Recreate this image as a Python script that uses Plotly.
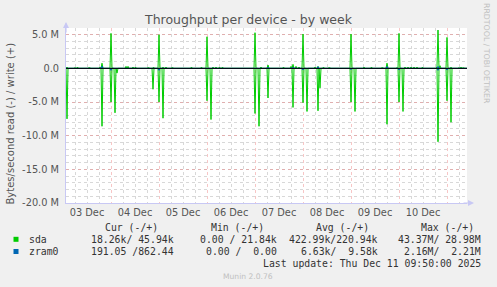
import pandas as pd
import plotly.graph_objects as go

# ---------------- data (MB/s, 30-minute averages) ----------------
sda_write_times = ["2025-12-03 02:00", "2025-12-03 06:00", "2025-12-03 07:00", "2025-12-03 11:00",
                   "2025-12-03 13:00", "2025-12-03 18:30", "2025-12-03 19:30", "2025-12-04 00:00",
                   "2025-12-04 07:30", "2025-12-04 08:30", "2025-12-04 11:00", "2025-12-04 12:00",
                   "2025-12-04 16:00", "2025-12-04 18:30", "2025-12-04 21:00", "2025-12-05 00:00",
                   "2025-12-05 02:00", "2025-12-05 03:30", "2025-12-05 06:30", "2025-12-05 09:00",
                   "2025-12-05 13:00", "2025-12-05 16:00", "2025-12-05 21:00", "2025-12-06 00:00",
                   "2025-12-06 03:00", "2025-12-06 04:30", "2025-12-06 06:00", "2025-12-06 07:30",
                   "2025-12-06 13:30", "2025-12-06 19:30", "2025-12-07 00:00", "2025-12-07 03:00",
                   "2025-12-07 06:30", "2025-12-07 14:00", "2025-12-07 18:00", "2025-12-07 19:00",
                   "2025-12-07 20:30", "2025-12-07 22:00", "2025-12-08 00:00", "2025-12-08 06:00",
                   "2025-12-08 07:30", "2025-12-08 10:00", "2025-12-08 13:00", "2025-12-08 17:30",
                   "2025-12-09 00:00", "2025-12-09 06:30", "2025-12-09 10:00", "2025-12-09 13:00",
                   "2025-12-09 15:30", "2025-12-09 18:00", "2025-12-09 23:00", "2025-12-10 00:00",
                   "2025-12-10 03:00", "2025-12-10 04:30", "2025-12-10 06:00", "2025-12-10 07:30",
                   "2025-12-10 09:00", "2025-12-10 11:30", "2025-12-10 19:00", "2025-12-10 19:30",
                   "2025-12-10 20:30", "2025-12-11 00:00", "2025-12-11 02:00", "2025-12-11 06:00",
                   "2025-12-11 07:00", "2025-12-11 08:00"]
sda_write_vals = [0.2, 0.15, 0.15, 0.1,
                  0.12, 0.2, 0.77, 5.2,
                  0.3, 0.3, 0.2, 0.15,
                  0.1, 0.12, 0.15, 5.0,
                  0.2, 0.2, 0.12, 0.1,
                  0.1, 0.15, 0.15, 4.7,
                  0.2, 0.2, 0.15, 0.15,
                  0.1, 0.1, 5.3, 0.2,
                  0.5, 0.15, 0.3, 0.6,
                  0.3, 0.2, 5.1, 0.2,
                  0.3, 0.15, 0.12, 0.1,
                  5.1, 0.2, 0.15, 0.1,
                  0.12, 0.77, 0.15, 5.2,
                  0.2, 0.2, 0.2, 0.2,
                  0.2, 0.15, 0.3, 5.7,
                  0.4, 4.6, 0.2, 0.15,
                  0.2, 0.1]

sda_read_times = ["2025-12-03 02:00", "2025-12-03 19:30", "2025-12-04 00:00", "2025-12-04 02:00",
                  "2025-12-04 03:00", "2025-12-04 21:00", "2025-12-05 00:00", "2025-12-05 02:00",
                  "2025-12-06 00:00", "2025-12-06 02:00", "2025-12-07 00:00", "2025-12-07 02:00",
                  "2025-12-07 06:30", "2025-12-07 19:00", "2025-12-08 00:00", "2025-12-08 02:00",
                  "2025-12-08 07:30", "2025-12-08 08:30", "2025-12-09 00:00", "2025-12-09 02:00",
                  "2025-12-09 18:00", "2025-12-10 00:00", "2025-12-10 02:00", "2025-12-10 19:30",
                  "2025-12-11 00:00", "2025-12-11 02:00"]
sda_read_vals = [7.5, 8.6, 5.0, 6.6,
                 0.7, 3.1, 5.0, 7.4,
                 4.8, 7.6, 6.7, 8.6,
                 4.4, 5.8, 5.1, 6.4,
                 6.3, 2.9, 5.0, 6.4,
                 8.3, 5.0, 6.4, 10.9,
                 4.8, 8.0]

zram_write_times = ["2025-12-03 19:30", "2025-12-07 06:30", "2025-12-07 19:00",
                    "2025-12-08 07:30", "2025-12-09 18:00", "2025-12-10 19:30"]
zram_write_vals = [0.35, 0.2, 0.2, 0.25, 0.3, 0.3]
zram_read_times = ["2025-12-04 00:00", "2025-12-05 00:00", "2025-12-06 00:00", "2025-12-07 00:00",
                   "2025-12-08 00:00", "2025-12-09 00:00", "2025-12-10 00:00", "2025-12-10 19:30",
                   "2025-12-11 00:00"]
zram_read_vals = [0.3, 0.3, 0.1, 0.1, 0.25, 0.2, 0.25, 0.3, 0.25]

y_tickvals = [-20e6, -15e6, -10e6, -5e6, 0, 5e6]
y_ticktext = ["-20.0 M", "-15.0 M", "-10.0 M", "-5.0 M", "0.0", "5.0 M"]

legend_names = ["sda", "zram0"]
legend_cur = ["18.26k/ 45.94k", "191.05 /862.44"]
legend_min = ["0.00 / 21.84k", "0.00 /  0.00"]
legend_avg = ["422.99k/220.94k", "6.63k/  9.58k"]
legend_max = ["43.37M/ 28.98M", "2.16M/  2.21M"]
last_update = "Last update: Thu Dec 11 09:50:00 2025"

START, END = "2025-12-03 01:30", "2025-12-11 10:00"
GREEN, BLUE = "#00cc00", "#0066b3"

# rrd step grid (30 min); steps not listed above were at the zero baseline
grid = pd.date_range(START, END, freq="30min")


def series(times, vals, sign):
    s = pd.Series([v * 1e6 * sign for v in vals], index=pd.to_datetime(times))
    return s.reindex(grid, fill_value=0.0)


fig = go.Figure()
for times, vals, sign, col in [
    (sda_read_times, sda_read_vals, -1, GREEN),
    (sda_write_times, sda_write_vals, 1, GREEN),
    (zram_read_times, zram_read_vals, -1, BLUE),
    (zram_write_times, zram_write_vals, 1, BLUE),
]:
    s = series(times, vals, sign)
    fig.add_trace(go.Scatter(x=s.index, y=s.values, mode="lines",
                             line=dict(color=col, width=1), showlegend=False))

fig.add_hline(y=0, line_color="black", line_width=1, layer="above")

W, H = 497, 287
L, R, T, B = 66, 30, 28, 84
PW, PH = W - L - R, H - T - B


def px(x):
    return (x - L) / PW


def py(y):
    return (H - B - y) / PH


RED = "rgba(235,120,120,0.42)"
GREY = "#d8d8d8"
AX = "#c8c8f4"
TXT = "#555555"

fig.update_layout(
    width=W, height=H,
    margin=dict(l=L, r=R, t=T, b=B, pad=0),
    paper_bgcolor="#f0f0f0", plot_bgcolor="white",
    font=dict(family="DejaVu Sans", size=10, color=TXT),
    xaxis=dict(type="date", range=[START, END], tick0="2025-12-03", dtick=86400000,
               ticklabelmode="period", tickformat="%d %b", showgrid=True,
               gridcolor=RED, griddash="dot", gridwidth=1,
               minor=dict(dtick=6 * 3600000, showgrid=True, gridcolor=GREY, griddash="dot"),
               showline=True, linecolor=AX, linewidth=1, zeroline=False,
               ticks="", tickfont=dict(size=9.8, color=TXT)),
    yaxis=dict(range=[-20e6, 6e6], tickvals=y_tickvals, ticktext=y_ticktext,
               showgrid=True, gridcolor=RED, griddash="dot", gridwidth=1,
               minor=dict(dtick=1e6, showgrid=True, gridcolor=GREY, griddash="dot"),
               showline=True, linecolor=AX, linewidth=1, zeroline=False,
               ticks="", ticklabelstandoff=4, tickfont=dict(size=9.8, color=TXT)),
)

ann = []
ann.append(dict(text="Throughput per device - by week", x=px(248), y=py(19), xref="paper", yref="paper",
                showarrow=False, font=dict(size=12.5, color=TXT), xanchor="center", yanchor="middle"))
ann.append(dict(text="Bytes/second read (-) / write (+)", x=px(10), y=py(123.5), xref="paper", yref="paper",
                showarrow=False, textangle=-90, font=dict(size=10, color=TXT),
                xanchor="center", yanchor="middle"))
ann.append(dict(text="RRDTOOL / TOBI OETIKER", x=px(487), y=py(53), xref="paper", yref="paper",
                showarrow=False, textangle=90, font=dict(size=7.8, color="#c0c0c0"),
                xanchor="center", yanchor="middle"))
ann.append(dict(text="Munin 2.0.76", x=px(248), y=py(276), xref="paper", yref="paper",
                showarrow=False, font=dict(size=7.6, color="#c0c0c0"), xanchor="center", yanchor="middle"))
# axis arrows
ann.append(dict(x=px(66), y=py(22), ax=0, ay=12, xref="paper", yref="paper", text="", showarrow=True,
                arrowhead=2, arrowsize=1, arrowwidth=1.2, arrowcolor=AX))
ann.append(dict(x=px(474), y=py(203), ax=-12, ay=0, xref="paper", yref="paper", text="", showarrow=True,
                arrowhead=2, arrowsize=1, arrowwidth=1.2, arrowcolor=AX))

MONO = dict(family="DejaVu Sans Mono", size=9.8, color="#333333")


def mtext(t, x, y, anchor):
    ann.append(dict(text=t.replace(" ", "&nbsp;"), x=px(x), y=py(y), xref="paper", yref="paper",
                    showarrow=False, font=MONO, xanchor=anchor, yanchor="middle"))


for label, xr in [("Cur (-/+)", 160.3), ("Min (-/+)", 265.7), ("Avg (-/+)", 370.7), ("Max (-/+)", 476)]:
    mtext(label, xr, 227.5, "right")
rows_y = [239.3, 251.5]
for i, name in enumerate(legend_names):
    y = rows_y[i]
    mtext(name, 26.7, y, "left")
    mtext(legend_cur[i], 176, y, "right")
    mtext(legend_min[i], 278.7, y, "right")
    mtext(legend_avg[i], 380, y, "right")
    mtext(legend_max[i], 483.3, y, "right")
mtext(last_update, 482.7, 263.7, "right")

fig.update_layout(annotations=ann)

# legend colour boxes
for i, col in enumerate([GREEN, BLUE]):
    fig.add_shape(type="rect", xref="paper", yref="paper",
                  x0=px(13.5), x1=px(18.5), y0=py(rows_y[i] - 2.5), y1=py(rows_y[i] + 2.5),
                  fillcolor=col, line=dict(width=0))

fig.write_html("out.html")
